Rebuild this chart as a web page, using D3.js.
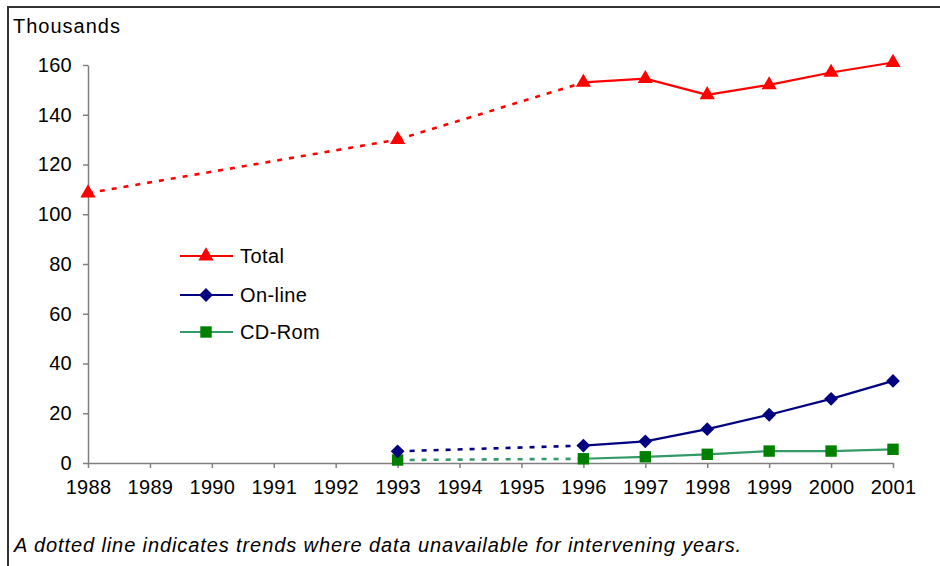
<!DOCTYPE html>
<html>
<head>
<meta charset="utf-8">
<script src="https://cdn.jsdelivr.net/npm/d3@7"></script>
<style>
  html, body { margin: 0; padding: 0; background: #fff; }
  svg { display: block; font-family: "Liberation Sans", Arial, sans-serif; }
</style>
</head>
<body>
<svg id="chart" width="940" height="566"></svg>
<script>
// Years on the x axis
const years = [1988, 1989, 1990, 1991, 1992, 1993, 1994, 1995, 1996, 1997, 1998, 1999, 2000, 2001];
// Y axis ticks (thousands)
const yTicks = [0, 20, 40, 60, 80, 100, 120, 140, 160];

// Series values (thousands), only for years with data
const totalYears  = [1988, 1993, 1996, 1997, 1998, 1999, 2000, 2001];
const totalValues = [108.5, 130, 153, 154.5, 148, 152, 157, 161];
const onlineYears  = [1993, 1996, 1997, 1998, 1999, 2000, 2001];
const onlineValues = [4.7, 7, 8.7, 13.6, 19.4, 25.8, 33];
const cdromYears  = [1993, 1996, 1997, 1998, 1999, 2000, 2001];
const cdromValues = [1.2, 1.7, 2.5, 3.5, 4.8, 4.8, 5.5];

const seriesNames = ["Total", "On-line", "CD-Rom"];
const lineColors = ["#ff0000", "#000080", "#339966"];
const markerColors = ["#ff0000", "#000080", "#008000"];

// Square rotated 45 degrees
const diamondSym = {
  draw(ctx, size) {
    const r = Math.sqrt(size / 2);
    ctx.moveTo(0, -r); ctx.lineTo(r, 0); ctx.lineTo(0, r); ctx.lineTo(-r, 0); ctx.closePath();
  }
};
const markerTypes = [d3.symbolTriangle, diamondSym, d3.symbolSquare];
const markerSizes = [100, 95, 130];

const svg = d3.select("#chart");

const x = d3.scaleLinear().domain([1988, 2001]).range([88, 893]);
const y = d3.scaleLinear().domain([0, 160]).range([463, 65]);

// Frame
svg.append("path")
  .attr("d", "M8,566 L8,7 L940,7")
  .attr("fill", "none")
  .attr("stroke", "#333")
  .attr("stroke-width", 2);

// Y axis
const yAxis = svg.append("g")
  .attr("transform", `translate(${x(1988)},0)`)
  .call(d3.axisLeft(y).tickValues(yTicks).tickSize(5).tickPadding(11).tickSizeOuter(0));
// X axis
const xAxis = svg.append("g")
  .attr("transform", `translate(0,${y(0)})`)
  .call(d3.axisBottom(x).tickValues(years).tickFormat(d3.format("d")).tickSize(5).tickPadding(12).tickSizeOuter(0));

[yAxis, xAxis].forEach(g => {
  g.select(".domain").attr("stroke", "#808080").attr("stroke-width", 1.5);
  g.selectAll(".tick line").attr("stroke", "#808080").attr("stroke-width", 1.5);
  g.selectAll(".tick text")
    .attr("fill", "#000")
    .style("font-size", "20px")
    .style("letter-spacing", "0.3px")
    .style("font-family", "'Liberation Sans', Arial, sans-serif");
});

// Unit label
svg.append("text")
  .attr("x", 13).attr("y", 33)
  .style("font-size", "20px")
  .style("letter-spacing", "1px")
  .text("Thousands");

// Draw a series: dotted across gaps in years, solid between consecutive years
function drawSeries(ys, vs, i) {
  const pts = ys.map((yr, k) => ({ yr, v: vs[k] }));
  const line = d3.line().x(d => x(d.yr)).y(d => y(d.v));
  for (let k = 0; k < pts.length - 1; k++) {
    const a = pts[k], b = pts[k + 1];
    const gap = b.yr - a.yr > 1;
    svg.append("path")
      .attr("d", line([a, b]))
      .attr("fill", "none")
      .attr("stroke", lineColors[i])
      .attr("stroke-width", gap ? 2.6 : 2.2)
      .attr("stroke-dasharray", gap ? "5,7" : null);
  }
  svg.append("g").selectAll("path")
    .data(pts)
    .join("path")
    .attr("transform", d => `translate(${x(d.yr)},${y(d.v)})`)
    .attr("d", d3.symbol().type(markerTypes[i]).size(markerSizes[i]))
    .attr("fill", markerColors[i]);
}

drawSeries(cdromYears, cdromValues, 2);
drawSeries(onlineYears, onlineValues, 1);
drawSeries(totalYears, totalValues, 0);

// Legend
const legendY = [256, 295, 332];
seriesNames.forEach((name, i) => {
  const g = svg.append("g").attr("transform", `translate(0,${legendY[i]})`);
  g.append("line")
    .attr("x1", 180).attr("x2", 233).attr("y1", 0).attr("y2", 0)
    .attr("stroke", lineColors[i]).attr("stroke-width", 2.2);
  g.append("path")
    .attr("transform", "translate(206,0)")
    .attr("d", d3.symbol().type(markerTypes[i]).size(markerSizes[i]))
    .attr("fill", markerColors[i]);
  g.append("text")
    .attr("x", 240).attr("y", 7)
    .style("font-size", "20px")
    .style("letter-spacing", "0.4px")
    .text(name);
});

// Footnote
svg.append("text")
  .attr("x", 14).attr("y", 552)
  .style("font-size", "20px")
  .style("font-style", "italic")
  .style("letter-spacing", "0.9px")
  .text("A dotted line indicates trends where data unavailable for intervening years.");
</script>
</body>
</html>
